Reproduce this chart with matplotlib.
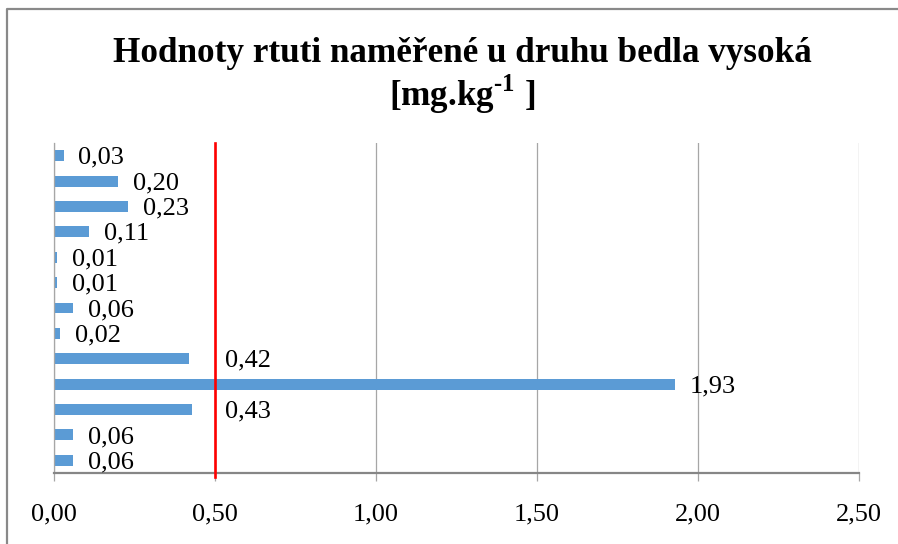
import matplotlib
matplotlib.use("Agg")
import matplotlib.pyplot as plt
from matplotlib.lines import Line2D
from matplotlib.ticker import FuncFormatter, MultipleLocator

# hodnoty odspodu nahoru
values = [0.06, 0.06, 0.43, 1.93, 0.42, 0.02, 0.06, 0.01, 0.01, 0.11, 0.23, 0.20, 0.03]
limit = 0.50
title_1 = "Hodnoty rtuti naměřené u druhu bedla vysoká"
title_2 = "[mg.kg$^{\\text{-1}}$ ]"

plt.rcParams['font.family'] = ['Liberation Serif', 'DejaVu Serif']
plt.rcParams['mathtext.fontset'] = 'custom'
plt.rcParams['mathtext.rm'] = 'Liberation Serif:bold'
plt.rcParams['mathtext.bf'] = 'Liberation Serif:bold'

fig = plt.figure(figsize=(8.98, 5.44), dpi=100)
ax = fig.add_axes([54 / 898, 1 - 473 / 544, 805 / 898, 330 / 544])

pos = list(range(len(values)))
ax.barh(pos, values, height=0.43, color='#5B9BD5', zorder=2)
ax.axvline(limit, color='#FF0000', lw=1.9, zorder=3, ymin=-0.012, clip_on=False)

# popisky hodnot
fs = 19
for i, v in zip(pos, values):
    txt = f"{v:.2f}".replace('.', ',')
    if v < limit < v + 0.2:
        ax.annotate(txt, xy=(limit, i), xytext=(7.5, -1.5), textcoords='offset points',
                    va='center', ha='left', fontsize=fs)
    else:
        ax.annotate(txt, xy=(v, i), xytext=(10.5, -1.5), textcoords='offset points',
                    va='center', ha='left', fontsize=fs)

ax.set_xlim(0, 2.5)
ax.set_ylim(-0.5, len(values) - 0.5)
ax.xaxis.set_major_locator(MultipleLocator(0.5))
ax.xaxis.set_major_formatter(FuncFormatter(lambda v, p: f"{v:.2f}".replace('.', ',')))
ax.set_yticks([])
ax.grid(axis='x', color='#A6A6A6', lw=0.9, zorder=0)
ax.set_axisbelow(True)
for s in ['top', 'right']:
    ax.spines[s].set_visible(False)
ax.spines['left'].set_color('#A6A6A6')
ax.spines['left'].set_linewidth(0.9)
ax.spines['bottom'].set_color('#868686')
ax.spines['bottom'].set_linewidth(1.6)
ax.tick_params(axis='x', direction='out', length=6, width=0.9, color='#A6A6A6',
               labelsize=fs, pad=16)

fig.text(462 / 898, 1 - 53 / 544, title_1, ha='center', va='center',
         fontsize=25.3, fontweight='bold')
fig.text(462 / 898, 1 - 94 / 544, title_2, ha='center', va='center',
         fontsize=25.3, fontweight='bold')

# ramecek grafu
fig.add_artist(Line2D([7 / 898, 7 / 898, 1], [0, 1 - 9 / 544, 1 - 9 / 544],
                      transform=fig.transFigure, color='#898989', lw=1.6))

fig.savefig('out.png', dpi=100)
